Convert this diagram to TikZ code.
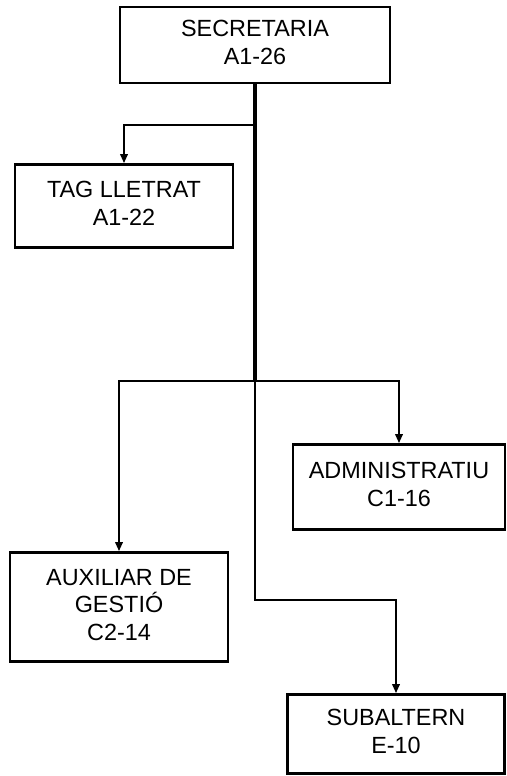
\documentclass[tikz,border=0pt]{standalone}
\usepackage{fontspec}
\setmainfont{Liberation Sans}
\usetikzlibrary{arrows.meta}
\definecolor{orgline}{HTML}{000000}
\tikzset{
  post/.style={
    rectangle,
    draw=orgline,
    line width=2.8pt,
    fill=white,
    align=center,
    inner sep=0pt,
    text depth=5pt,
    font=\fontsize{23.4}{27.5}\selectfont
  },
  trunk/.style={line width=3.2pt, draw=orgline},
  link/.style={-{Triangle[length=9pt,width=7.5pt]}, line width=1.9pt, draw=orgline}
}

\begin{document}
\begin{tikzpicture}[x=1pt, y=-1pt]
  \useasboundingbox (0,0) rectangle (506,776);

  \node[post, minimum width=270pt, minimum height=76pt] (sec) at (255,45) {SECRETARIA\\A1-26};
  \node[post, minimum width=218pt, minimum height=83pt] (tag) at (124,206) {TAG LLETRAT\\A1-22};
  \node[post, minimum width=212pt, minimum height=85pt] (admin) at (399,487) {ADMINISTRATIU\\C1-16};
  \node[post, minimum width=218pt, minimum height=109pt] (aux) at (119,607) {AUXILIAR DE\\GESTIÓ\\C2-14};
  \node[post, minimum width=217pt, minimum height=79pt] (sub) at (396,734) {SUBALTERN\\E-10};

  \coordinate (tagjoin) at (255,125);
  \coordinate (hub) at (255,381);
  \coordinate (bend) at (255,600);

  \draw[trunk] (sec.south) -- (hub);
  \draw[link] (tagjoin) -| (tag.north);
  \draw[link] (hub) -| (aux.north);
  \draw[link] (hub) -| (admin.north);
  \draw[link] (hub) -- (bend) -| (sub.north);
\end{tikzpicture}
\end{document}
